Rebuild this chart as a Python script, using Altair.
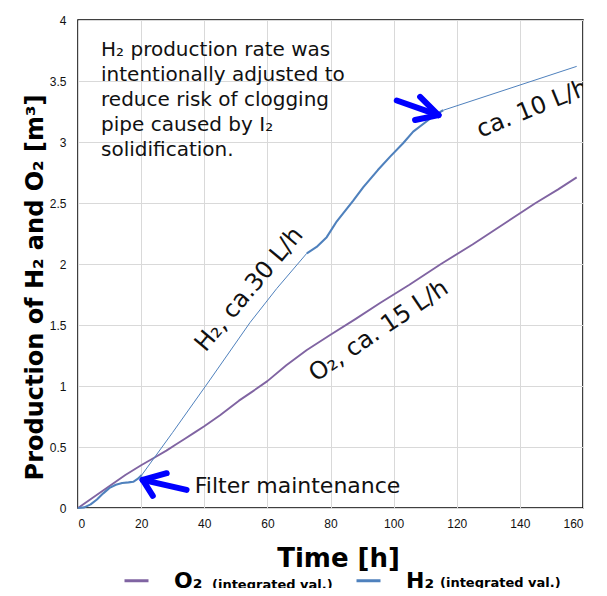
import altair as alt
import pandas as pd

# ---------------- data ----------------
# O2 integrated production [m3] vs time [h]
o2_t = [0, 5, 10, 15, 20, 24, 28, 31, 34, 37, 40, 45, 51, 55, 60, 66, 72.5, 80, 88, 95.7, 105, 115, 125, 135, 145, 152, 158]
o2_v = [0, 0.09, 0.18, 0.27, 0.35, 0.41, 0.47, 0.52, 0.57, 0.62, 0.67, 0.76, 0.88, 0.95, 1.04, 1.17, 1.295, 1.42, 1.55, 1.68, 1.83, 2.0, 2.16, 2.33, 2.5, 2.61, 2.71]

# H2 integrated production, in segments (thick = measured, thin = sparse)
h2a_t = [0, 2, 4, 6, 8, 10, 12, 14, 16, 17.5, 19, 20.2]
h2a_v = [0, 0.005, 0.03, 0.07, 0.12, 0.165, 0.19, 0.205, 0.21, 0.215, 0.24, 0.27]
h2b_t = [20.2, 30, 41.8, 54.5, 63, 72.5]
h2b_v = [0.27, 0.62, 1.05, 1.52, 1.80, 2.088]
h2c_t = [72.5, 75.6, 78.8, 82, 87.2, 90.4, 95, 98.9, 103, 106.2, 110.5, 113, 115.7]
h2c_v = [2.088, 2.14, 2.22, 2.35, 2.52, 2.63, 2.77, 2.88, 2.99, 3.085, 3.17, 3.22, 3.26]
h2d_t = [115.7, 158]
h2d_v = [3.26, 3.62]

series_names = ["O₂", "H₂"]
series_colors = ["#8064A2", "#4F81BD"]

# arrows (segments: start t, start v, end t, end v)
arrow_t = [34.4, 20.5, 20.5, 101.0, 114.2, 114.2]
arrow_v = [0.148, 0.23, 0.23, 3.34, 3.22, 3.22]
arrow_t2 = [20.5, 28.1, 23.7, 114.2, 108.4, 106.8]
arrow_v2 = [0.23, 0.285, 0.100, 3.22, 3.37, 3.18]

# text annotations
note_text = "H₂ production rate was\nintentionally adjusted to\nreduce risk of clogging\npipe caused by I₂\nsolidification."
note_t, note_v = 7.3, 3.84
filter_text, filter_t, filter_v = "Filter maintenance", 37.0, 0.18
rot_texts = ["H₂, ca.30 L/h", "O₂, ca. 15 L/h", "ca. 10 L/h"]
rot_t = [54.3, 95.3, 144.0]
rot_v = [1.79, 1.45, 3.27]
rot_angle = [310, 326, 338]

x_ticks = [0, 20, 40, 60, 80, 100, 120, 140, 160]
y_ticks = [0, 0.5, 1, 1.5, 2, 2.5, 3, 3.5, 4]

# ---------------- tables ----------------
rows = []
for t, v in zip(o2_t, o2_v):
    rows.append({"t": t, "v": v, "series": "O₂", "seg": "o2", "w": 1.9})
for name, ts, vs, w in [("h2a", h2a_t, h2a_v, 2.1), ("h2b", h2b_t, h2b_v, 1.0),
                        ("h2c", h2c_t, h2c_v, 2.1), ("h2d", h2d_t, h2d_v, 1.0)]:
    for t, v in zip(ts, vs):
        rows.append({"t": t, "v": v, "series": "H₂", "seg": name, "w": w})
lines_df = pd.DataFrame(rows)

arrows_df = pd.DataFrame({"t": arrow_t, "v": arrow_v, "t2": arrow_t2, "v2": arrow_v2})
rot_df = pd.DataFrame({"t": rot_t, "v": rot_v, "label": rot_texts, "angle": rot_angle})

FONT = "DejaVu Sans"

xscale = alt.Scale(domain=[0, 160], nice=False)
yscale = alt.Scale(domain=[0, 4], nice=False)

x_enc = alt.X("t:Q", scale=xscale,
              axis=alt.Axis(title="Time [h]", values=x_ticks, labelExpr="'' + datum.value", grid=True,
                            titleFontSize=26, titleFont=FONT, titleFontWeight="bold",
                            titleColor="#000", titleX=260, titleY=58, titleBaseline="alphabetic"))
y_enc = alt.Y("v:Q", scale=yscale,
              axis=alt.Axis(title="Production of H₂ and O₂ [m³]", values=y_ticks,
                            labelExpr="'' + datum.value", grid=True,
                            titleFontSize=24, titleFont=FONT, titleFontWeight="bold",
                            titleColor="#000", titleX=-43, titleY=267, titleBaseline="middle",
                            titleAngle=270, titleAlign="center"))

lines = alt.Chart(lines_df).mark_line(strokeJoin="round").encode(
    x=x_enc,
    y=y_enc,
    color=alt.Color("series:N",
                    scale=alt.Scale(domain=series_names, range=series_colors),
                    legend=alt.Legend(title=None, orient="none", direction="horizontal",
                                      legendX=45, legendY=547, symbolType="stroke",
                                      symbolSize=576, symbolStrokeWidth=3,
                                      labelFont=FONT, labelFontSize=22, labelFontWeight="bold",
                                      labelColor="#000", labelOffset=24, columnPadding=147,
                                      padding=0)),
    strokeWidth=alt.StrokeWidth("w:Q", scale=None),
    detail="seg:N",
    order="t:Q",
)

arrows = alt.Chart(arrows_df).mark_rule(color="#0000FF", strokeWidth=6, strokeCap="round").encode(
    x="t:Q", y="v:Q", x2="t2:Q", y2="v2:Q")

note = alt.Chart(pd.DataFrame({"t": [note_t], "v": [note_v], "label": [note_text]})).mark_text(
    align="left", baseline="top", font=FONT, fontSize=20, lineHeight=25, lineBreak="\n", color="#111"
).encode(x="t:Q", y="v:Q", text="label:N")

filt = alt.Chart(pd.DataFrame({"t": [filter_t], "v": [filter_v], "label": [filter_text]})).mark_text(
    align="left", baseline="middle", font=FONT, fontSize=22, color="#111"
).encode(x="t:Q", y="v:Q", text="label:N")

rot = alt.Chart(rot_df).mark_text(
    align="center", baseline="middle", font=FONT, fontSize=24, color="#111", clip=True
).encode(x="t:Q", y="v:Q", text="label:N", angle=alt.Angle("angle:Q", scale=None))

sub_df = pd.DataFrame({"a": [0]})
sub1 = alt.Chart(sub_df).mark_text(text="(integrated val.)", align="left", baseline="alphabetic",
                                   font=FONT, fontSize=13, fontWeight="bold", color="#000").encode(
    x=alt.value(134), y=alt.value(569))
sub2 = alt.Chart(sub_df).mark_text(text="(integrated val.)", align="left", baseline="alphabetic",
                                   font=FONT, fontSize=13, fontWeight="bold", color="#000").encode(
    x=alt.value(362), y=alt.value(567))

chart = alt.layer(lines, arrows, note, filt, rot, sub1, sub2).properties(
    width=505, height=488,
    autosize=alt.AutoSizeParams(type="none"),
    padding={"left": 70, "top": 12, "right": 16, "bottom": 80},
).configure_view(
    stroke="#000", strokeWidth=1.5
).configure_axis(
    domain=False, ticks=False, gridColor="#d9d9d9", gridWidth=1,
    labelFont="Liberation Sans", labelFontSize=12, labelColor="#111",
    labelPadding=10,
).configure_axisY(labelPadding=12)

chart.save("out.html", embed_options={"renderer": "svg", "actions": False})
